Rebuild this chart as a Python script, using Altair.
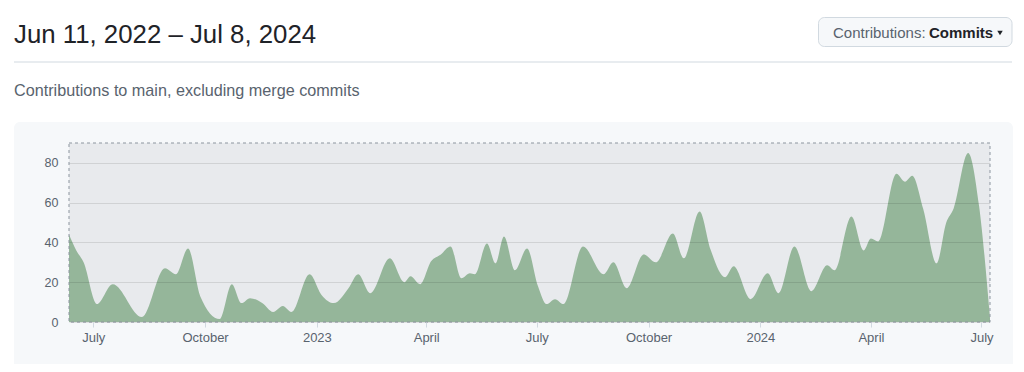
import altair as alt
import pandas as pd

# ---- data ----
dates = ["2022-06-11", "2022-06-17", "2022-06-23", "2022-07-04", "2022-07-17", "2022-08-10",
         "2022-08-29", "2022-09-07", "2022-09-17", "2022-09-27", "2022-10-13", "2022-10-23",
         "2022-10-31", "2022-11-07", "2022-11-17", "2022-11-26", "2022-12-04", "2022-12-11",
         "2022-12-26", "2023-01-05", "2023-01-15", "2023-01-27", "2023-02-04", "2023-02-14",
         "2023-03-02", "2023-03-14", "2023-03-19", "2023-03-27", "2023-04-05", "2023-04-13",
         "2023-04-21", "2023-04-30", "2023-05-07", "2023-05-11", "2023-05-21", "2023-05-28",
         "2023-06-04", "2023-06-13", "2023-06-23", "2023-07-02", "2023-07-09", "2023-07-16",
         "2023-07-23", "2023-08-08", "2023-08-25", "2023-09-02", "2023-09-13", "2023-09-27",
         "2023-10-07", "2023-10-21", "2023-10-30", "2023-11-12", "2023-11-21", "2023-12-03",
         "2023-12-10", "2023-12-24", "2024-01-07", "2024-01-16", "2024-01-29", "2024-02-12",
         "2024-02-25", "2024-03-02", "2024-03-16", "2024-03-26", "2024-04-01", "2024-04-07",
         "2024-04-22", "2024-04-29", "2024-05-05", "2024-05-14", "2024-05-25", "2024-06-02",
         "2024-06-08", "2024-06-20", "2024-06-29", "2024-07-08"]
commits = [44, 36, 30, 9, 19, 2.5,
           27, 24, 37, 13, 1.5, 19,
           9.5, 12, 9.5, 5, 8, 5,
           24, 13.5, 9.5, 17, 24, 14.5,
           32, 20, 23, 19, 30.5, 34,
           38, 22, 24.5, 24, 39.5, 29.5,
           43, 26, 37, 18, 9, 11.5,
           9, 38, 24, 30, 17, 34,
           30, 44.5, 32, 55.5, 36.5, 22.5,
           28, 11.5, 24.5, 14.5, 38, 15.5,
           28.5, 26, 53, 36, 42, 40.5,
           74.5, 70.5, 73.5, 57, 29.5, 50,
           57, 85, 58.5, 2]
y_ticks = [0, 20, 40, 60, 80]
x_tick_dates = [(2022, 7), (2022, 10), (2023, 1), (2023, 4), (2023, 7),
                (2023, 10), (2024, 1), (2024, 4), (2024, 7)]

title_text = "Jun 11, 2022 – Jul 8, 2024"
subtitle_text = "Contributions to main, excluding merge commits"
button_label = "Contributions:"
button_value = "Commits"

FONT = "Liberation Sans"
W, H = 921, 179

df = pd.DataFrame({"date": dates, "commits": commits})
one = pd.DataFrame({"k": [0]})

x_scale = alt.Scale(type="utc",
                    domain=[alt.DateTime(year=2022, month=6, date=11, utc=True),
                            alt.DateTime(year=2024, month=7, date=8, utc=True)])
y_scale = alt.Scale(domain=[0, 90], nice=False)

x_axis = alt.Axis(
    title=None, domain=False, grid=False, ticks=True, tickSize=5, tickColor="#d1d9e0",
    values=[alt.DateTime(year=y, month=m, date=1, utc=True) for y, m in x_tick_dates],
    labelExpr="utcmonth(datum.value) == 0 ? utcFormat(datum.value, '%Y') : utcFormat(datum.value, '%B')",
    labelFont=FONT, labelFontSize=13, labelColor="#59636e", labelPadding=4, zindex=1,
)
y_axis = alt.Axis(
    title=None, domain=False, ticks=False, values=y_ticks, grid=True,
    gridColor="#000000", gridOpacity=0.1, labelFont=FONT, labelFontSize=12.5,
    labelColor="#59636e", labelPadding=11, zindex=1,
)

panel = alt.Chart(one).mark_rect(fill="#f6f8fa", cornerRadius=6).encode(
    x=alt.value(-55), x2=alt.value(944), y=alt.value(-21), y2=alt.value(240))

plot_bg = alt.Chart(one).mark_rect(fill="#e8eaed").encode(
    x=alt.value(0), x2=alt.value(W), y=alt.value(0), y2=alt.value(H))

area = alt.Chart(df).mark_area(interpolate="monotone", color="#95b69a").encode(
    x=alt.X("date:T", scale=x_scale, axis=x_axis),
    y=alt.Y("commits:Q", scale=y_scale, axis=y_axis),
)

border = alt.Chart(one).mark_rect(fill=None, stroke="#8c959f", strokeWidth=1,
                                  strokeDash=[3, 3]).encode(
    x=alt.value(0), x2=alt.value(W), y=alt.value(0), y2=alt.value(H))

hr = alt.Chart(one).mark_rule(color="#d1d9e0", strokeWidth=1).encode(
    x=alt.value(-55), x2=alt.value(943), y=alt.value(-81))

title = alt.Chart(one).mark_text(align="left", baseline="alphabetic", font=FONT,
                                 fontSize=25.8, color="#1f2328").encode(
    x=alt.value(-55), y=alt.value(-100), text=alt.value(title_text))

subtitle = alt.Chart(one).mark_text(align="left", baseline="alphabetic", font=FONT,
                                    fontSize=16.2, color="#59636e").encode(
    x=alt.value(-55), y=alt.value(-47), text=alt.value(subtitle_text))

button = alt.Chart(one).mark_rect(fill="#f6f8fa", stroke="#d1d9e0", strokeWidth=1,
                                  cornerRadius=6).encode(
    x=alt.value(749.5), x2=alt.value(943), y=alt.value(-125.5), y2=alt.value(-96.5))

btn_label = alt.Chart(one).mark_text(align="left", baseline="alphabetic", font=FONT,
                                     fontSize=15, color="#59636e").encode(
    x=alt.value(764), y=alt.value(-105), text=alt.value(button_label))

btn_value = alt.Chart(one).mark_text(align="left", baseline="alphabetic", font=FONT,
                                     fontSize=15, fontWeight="bold", color="#1f2328").encode(
    x=alt.value(860), y=alt.value(-105), text=alt.value(button_value))

caret = alt.Chart(one).mark_point(shape="triangle-down", filled=True, size=30,
                                  color="#1f2328", opacity=1).encode(
    x=alt.value(931), y=alt.value(-110))

chart = alt.layer(
    panel, plot_bg, area, border, hr, title, subtitle, button, btn_label, btn_value, caret
).properties(
    width=W, height=H,
    autosize=alt.AutoSizeParams(type="none"),
    padding={"left": 61, "top": 135, "right": 23, "bottom": 42},
    background="#ffffff",
).configure_view(stroke=None)

chart.save("out.html", embed_options={"renderer": "svg", "actions": False})
